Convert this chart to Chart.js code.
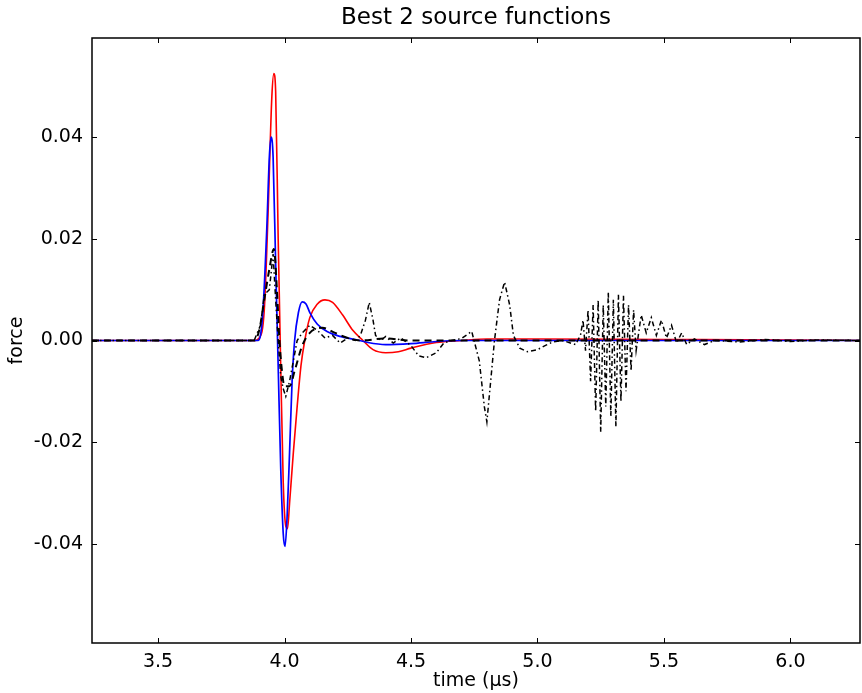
<!DOCTYPE html>
<html>
<head>
<meta charset="utf-8">
<script src="https://cdn.jsdelivr.net/npm/chart.js@4.4.1/dist/chart.umd.min.js"></script>
<style>
  html, body { margin: 0; padding: 0; background: #fff; }
  #wrap { width: 862px; height: 693px; }
</style>
</head>
<body>
<div id="wrap"><canvas id="chart"></canvas></div>
<script>
// tick values
const xTicks = [3.5, 4.0, 4.5, 5.0, 5.5, 6.0]
const yTicks = [-0.04, -0.02, 0.0, 0.02, 0.04]
const chartTitle = "Best 2 source functions"

// red source function
const redTime = [3.239, 3.88, 3.9, 3.92, 3.935, 3.95, 3.958, 3.965, 3.975, 3.985, 3.995, 4.005, 4.012, 4.02, 4.035, 4.05, 4.065, 4.08, 4.1, 4.13, 4.16, 4.19, 4.23, 4.27, 4.31, 4.35, 4.4, 4.45, 4.5, 4.6, 4.7, 4.8, 5.0, 5.5, 6.0, 6.275]
const redForce = [0, 0, 0.0005, 0.006, 0.025, 0.048, 0.0525, 0.049, 0.02, -0.005, -0.028, -0.0365, -0.037, -0.032, -0.022, -0.013, -0.005, 0.0, 0.0045, 0.0072, 0.008, 0.0075, 0.005, 0.002, 0.0, -0.0018, -0.0024, -0.0022, -0.0015, -0.0004, 0.0, 0.0003, 0.0003, 0.0002, 0.0001, 0]

// blue source function
const blueTime = [3.239, 3.895, 3.905, 3.915, 3.93, 3.94, 3.947, 3.955, 3.965, 3.975, 3.985, 3.995, 4.002, 4.01, 4.02, 4.03, 4.04, 4.055, 4.07, 4.085, 4.1, 4.13, 4.17, 4.22, 4.28, 4.33, 4.4, 4.5, 4.6, 4.7, 6.275]
const blueForce = [0, 0, 0.001, 0.006, 0.022, 0.036, 0.04, 0.036, 0.015, -0.005, -0.025, -0.038, -0.0405, -0.035, -0.022, -0.008, 0.0, 0.0055, 0.0076, 0.0072, 0.0055, 0.0032, 0.0017, 0.0008, 0.0002, -0.0004, -0.0008, -0.0006, -0.0002, 0, 0]

// black dashed trace
const dashTime = [3.239, 3.88, 3.9, 3.92, 3.94, 3.958, 3.97, 3.98, 3.99, 4.0, 4.02, 4.04, 4.07, 4.1, 4.15, 4.2, 4.25, 4.3, 4.4, 4.5, 5.0, 5.5, 6.275]
const dashForce = [0, 0, 0.002, 0.008, 0.014, 0.018, 0.01, 0.0, -0.006, -0.009, -0.009, -0.006, -0.001, 0.0015, 0.0025, 0.0015, 0.0005, 0, 0.0004, 0, 0, 0, 0]

// black dash-dot trace
const dotTime = [3.239, 3.88, 3.905, 3.92, 3.94, 3.955, 3.965, 3.975, 3.985, 3.995, 4.005, 4.02, 4.035, 4.05, 4.07, 4.1, 4.13, 4.16, 4.19, 4.22, 4.25, 4.28, 4.3, 4.32, 4.335, 4.35, 4.36, 4.38, 4.4, 4.43, 4.46, 4.5, 4.53, 4.56, 4.6, 4.63, 4.66, 4.7, 4.74, 4.77, 4.79, 4.8, 4.815, 4.83, 4.85, 4.87, 4.89, 4.905, 4.93, 4.96, 5.0, 5.03, 5.06, 5.1, 5.15, 5.17, 5.18, 5.19, 5.2, 5.21, 5.22, 5.23, 5.24, 5.25, 5.26, 5.27, 5.28, 5.29, 5.3, 5.31, 5.32, 5.33, 5.34, 5.35, 5.36, 5.37, 5.38, 5.39, 5.41, 5.43, 5.45, 5.47, 5.49, 5.51, 5.53, 5.55, 5.57, 5.59, 5.62, 5.66, 5.7, 5.8, 5.9, 6.0, 6.1, 6.275]
const dotForce = [0, 0, 0.003, 0.009, 0.01, 0.017, 0.008, 0.0, -0.007, -0.0095, -0.011, -0.008, -0.004, 0.0, 0.0015, 0.003, 0.002, 0.0005, 0.001, -0.0005, 0.0005, 0.0, 0.001, 0.004, 0.0075, 0.004, 0.001, 0, 0.0008, -0.0005, 0.0005, -0.001, -0.003, -0.0034, -0.0024, -0.0005, 0.0, 0.0004, 0.0018, -0.004, -0.013, -0.016, -0.008, 0.0, 0.008, 0.0115, 0.007, 0.001, -0.0015, -0.0022, -0.0018, -0.001, -0.0003, 0.0, -0.0008, 0.001, 0.004, -0.002, 0.006, -0.008, 0.007, -0.014, 0.008, -0.018, 0.007, -0.013, 0.0096, -0.015, 0.008, -0.017, 0.009, -0.012, 0.0088, -0.01, 0.007, -0.006, 0.006, -0.002, 0.005, 0.0015, 0.0045, 0.001, 0.004, 0.0005, 0.003, -0.0005, 0.0015, -0.0008, 0.0003, -0.0008, 0, -0.0003, 0.0002, -0.0002, 0.0001, 0]

const toPoints = (xs, ys) => xs.map((x, i) => ({ x: x, y: ys[i] }))

const font = "'DejaVu Sans', sans-serif"

// matplotlib style frame with inward ticks, title centred over the axes
const framePlugin = {
  id: "frame",
  afterDatasetsDraw(chart) {
    const { ctx, chartArea: a, scales } = chart
    ctx.save()
    ctx.strokeStyle = "#000"
    ctx.lineWidth = 1
    ctx.beginPath()
    xTicks.forEach(v => {
      const px = Math.round(scales.x.getPixelForValue(v)) + 0.5
      ctx.moveTo(px, a.bottom); ctx.lineTo(px, a.bottom - 5)
      ctx.moveTo(px, a.top); ctx.lineTo(px, a.top + 5)
    })
    yTicks.forEach(v => {
      const py = Math.round(scales.y.getPixelForValue(v)) + 0.5
      ctx.moveTo(a.left, py); ctx.lineTo(a.left + 5, py)
      ctx.moveTo(a.right, py); ctx.lineTo(a.right - 5, py)
    })
    ctx.stroke()
    ctx.lineWidth = 1.5
    ctx.strokeRect(a.left, a.top, a.right - a.left, a.bottom - a.top)

    ctx.fillStyle = "#000"
    ctx.font = "23px " + font
    ctx.textAlign = "center"
    ctx.textBaseline = "middle"
    ctx.fillText(chartTitle, (a.left + a.right) / 2, 18)
    ctx.restore()
  }
}

new Chart(document.getElementById("chart"), {
  type: "line",
  data: {
    datasets: [
      {
        label: "dashed",
        data: toPoints(dashTime, dashForce),
        borderColor: "#000",
        borderWidth: 2,
        borderDash: [7, 5],
        cubicInterpolationMode: "monotone",
      },
      {
        label: "dashdot",
        data: toPoints(dotTime, dotForce),
        borderColor: "#000",
        borderWidth: 1.5,
        borderDash: [5, 3, 1.5, 3],
        tension: 0,
      },
      {
        label: "blue",
        data: toPoints(blueTime, blueForce),
        borderColor: "#0000ff",
        borderWidth: 1.7,
        cubicInterpolationMode: "monotone",
      },
      {
        label: "red",
        data: toPoints(redTime, redForce),
        borderColor: "#ff0000",
        borderWidth: 1.6,
        cubicInterpolationMode: "monotone",
      },
    ],
  },
  options: {
    responsive: true,
    maintainAspectRatio: false,
    animation: false,
    layout: { padding: { left: 0, right: 2, top: 38, bottom: 0 } },
    elements: { point: { radius: 0 } },
    plugins: {
      legend: { display: false },
      tooltip: { enabled: false },
      title: { display: false },
    },
    scales: {
      x: {
        type: "linear",
        min: 3.239,
        max: 6.275,
        grid: { display: false, drawTicks: false },
        border: { display: false },
        afterBuildTicks: s => { s.ticks = xTicks.map(v => ({ value: v })) },
        afterFit: s => { s.height = 50 },
        ticks: {
          color: "#000",
          padding: 8,
          maxRotation: 0,
          font: { family: font, size: 19 },
          callback: v => v.toFixed(1),
        },
        title: {
          display: true,
          text: "time (µs)",
          color: "#000",
          font: { family: font, size: 19 },
          padding: { top: 0, bottom: 1 },
        },
      },
      y: {
        min: -0.0595,
        max: 0.0595,
        grid: { display: false, drawTicks: false },
        border: { display: false },
        afterBuildTicks: s => { s.ticks = yTicks.map(v => ({ value: v })) },
        afterFit: s => { s.width = 92 },
        ticks: {
          color: "#000",
          padding: 9,
          font: { family: font, size: 19 },
          callback: v => v.toFixed(2),
        },
        title: {
          display: true,
          text: "force",
          color: "#000",
          font: { family: font, size: 19 },
          padding: { top: 6, bottom: 0 },
        },
      },
    },
  },
  plugins: [framePlugin],
})
</script>
</body>
</html>
